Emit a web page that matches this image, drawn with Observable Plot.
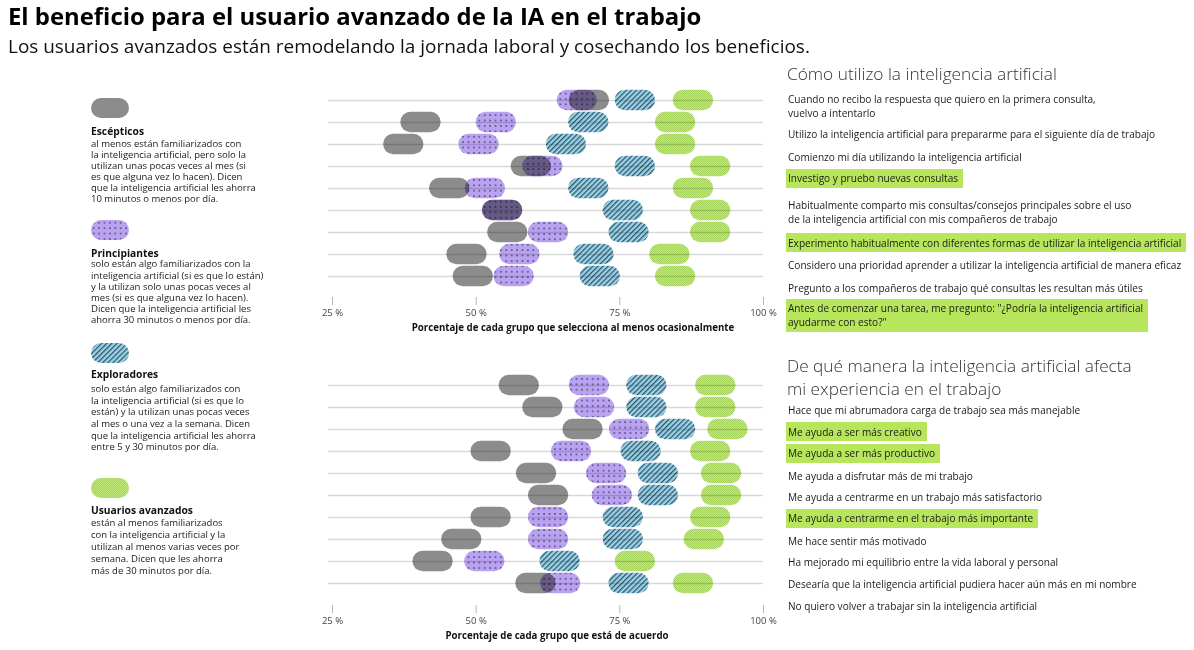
<!DOCTYPE html>
<html>
<head>
<meta charset="utf-8">
<script src="https://cdn.jsdelivr.net/npm/d3@7"></script>
<script src="https://cdn.jsdelivr.net/npm/@observablehq/plot@0.6"></script>
<style>
  html, body { margin: 0; padding: 0; background: #fff; }
  #page { position: relative; width: 1194px; height: 650px; overflow: hidden; font-family: "Open Sans", "Noto Sans", sans-serif; color: #111; }
  .abs { position: absolute; white-space: nowrap; }
  .title { font-weight: 700; font-size: 22px; line-height: 26px; color: #000; }
  .subtitle { font-size: 18px; line-height: 24px; color: #111; }
  .heading { font-weight: 300; font-size: 19px; line-height: 22.6px; color: #333; }
  .item { font-size: 11px; line-height: 14px; color: #1a1a1a; padding: 2.5px 5px 2.5px 2px; display: inline-block; }
  .item.hl { background: #b7e65c; }
  .gname { font-weight: 700; font-size: 11px; line-height: 13px; color: #111; }
  .gdesc { font-size: 10px; color: #1a1a1a; }
  .chart { position: absolute; }
  .chart svg [aria-label="x-axis tick"], .chart svg [aria-label="x-axis"] line { stroke: #b5b5b5; }
</style>
</head>
<body>
<svg width="0" height="0" style="position:absolute">
  <defs>
    <pattern id="pat-dots" patternUnits="userSpaceOnUse" width="5.4" height="5.4">
      <rect width="5.4" height="5.4" fill="#b9a2f2"/>
      <circle cx="2.7" cy="2.7" r="0.75" fill="#1a1a1a"/>
    </pattern>
    <pattern id="pat-hatch" patternUnits="userSpaceOnUse" width="3.6" height="3.6" patternTransform="rotate(45)">
      <rect width="3.6" height="3.6" fill="#96d3ea"/>
      <rect width="1.2" height="3.6" fill="#35505f"/>
    </pattern>
    <pattern id="pat-check" patternUnits="userSpaceOnUse" width="2" height="2">
      <rect width="2" height="2" fill="#bfe77a"/>
      <rect width="1" height="1" fill="#a7d45c"/>
      <rect x="1" y="1" width="1" height="1" fill="#a7d45c"/>
    </pattern>
  </defs>
</svg>
<div id="page"></div>
<script>
// ---------------- DATA ----------------
const titleText = "El beneficio para el usuario avanzado de la IA en el trabajo";
const subtitleText = "Los usuarios avanzados están remodelando la jornada laboral y cosechando los beneficios.";

const groupNames = ["Escépticos", "Principiantes", "Exploradores", "Usuarios avanzados"];
const groupDescriptions = [
  ["al menos están familiarizados con", "la inteligencia artificial, pero solo la", "utilizan unas pocas veces al mes (si", "es que alguna vez lo hacen). Dicen", "que la inteligencia artificial les ahorra", "10 minutos o menos por día."],
  ["solo están algo familiarizados con la", "inteligencia artificial (si es que lo están)", "y la utilizan solo unas pocas veces al", "mes (si es que alguna vez lo hacen).", "Dicen que la inteligencia artificial les", "ahorra 30 minutos o menos por día."],
  ["solo están algo familiarizados con", "la inteligencia artificial (si es que lo", "están) y la utilizan unas pocas veces", "al mes o una vez a la semana. Dicen", "que la inteligencia artificial les ahorra", "entre 5 y 30 minutos por día."],
  ["están al menos familiarizados", "con la inteligencia artificial y la", "utilizan al menos varias veces por", "semana. Dicen que les ahorra", "más de 30 minutos por día."]
];

const usoHeading = "Cómo utilizo la inteligencia artificial";
const usoItems = [
  "Cuando no recibo la respuesta que quiero en la primera consulta,\nvuelvo a intentarlo",
  "Utilizo la inteligencia artificial para prepararme para el siguiente día de trabajo",
  "Comienzo mi día utilizando la inteligencia artificial",
  "Investigo y pruebo nuevas consultas",
  "Habitualmente comparto mis consultas/consejos principales sobre el uso\nde la inteligencia artificial con mis compañeros de trabajo",
  "Experimento habitualmente con diferentes formas de utilizar la inteligencia artificial",
  "Considero una prioridad aprender a utilizar la inteligencia artificial de manera eficaz",
  "Pregunto a los compañeros de trabajo qué consultas les resultan más útiles",
  "Antes de comenzar una tarea, me pregunto: \"¿Podría la inteligencia artificial\nayudarme con esto?\""
];
const usoDestacados = [3, 5, 8];
const usoEscepticos    = [69.7, 40.4, 37.4, 59.6, 45.4, 54.6, 55.5, 48.4, 49.5];
const usoPrincipiantes = [67.6, 53.5, 50.5, 61.6, 51.6, 54.6, 62.6, 57.6, 56.6];
const usoExploradores  = [77.7, 69.6, 65.7, 77.7, 69.6, 75.6, 76.6, 70.5, 71.6];
const usoAvanzados     = [87.8, 84.7, 84.7, 90.8, 87.8, 90.8, 90.8, 83.7, 84.7];
const usoAxisLabel = "Porcentaje de cada grupo que selecciona al menos ocasionalmente";

const expHeading = "De qué manera la inteligencia artificial afecta\nmi experiencia en el trabajo";
const expItems = [
  "Hace que mi abrumadora carga de trabajo sea más manejable",
  "Me ayuda a ser más creativo",
  "Me ayuda a ser más productivo",
  "Me ayuda a disfrutar más de mi trabajo",
  "Me ayuda a centrarme en un trabajo más satisfactorio",
  "Me ayuda a centrarme en el trabajo más importante",
  "Me hace sentir más motivado",
  "Ha mejorado mi equilibrio entre la vida laboral y personal",
  "Desearía que la inteligencia artificial pudiera hacer aún más en mi nombre",
  "No quiero volver a trabajar sin la inteligencia artificial"
];
const expDestacados = [1, 2, 5];
const expEscepticos    = [57.5, 61.6, 68.6, 52.6, 60.5, 62.6, 52.6, 47.5, 42.5, 60.4];
const expPrincipiantes = [69.7, 70.6, 76.7, 66.6, 72.7, 73.7, 62.6, 62.6, 51.5, 64.7];
const expExploradores  = [79.7, 79.7, 84.7, 78.7, 81.7, 81.7, 75.6, 75.6, 64.6, 76.6];
const expAvanzados     = [91.7, 91.7, 93.8, 90.8, 92.7, 92.7, 90.8, 89.7, 77.7, 87.8];
const expAxisLabel = "Porcentaje de cada grupo que está de acuerdo";

const xTicks = [25, 50, 75, 100];

// ---------------- STYLE / LAYOUT ----------------
const groupFills = ["#8c8c8c", "url(#pat-dots)", "url(#pat-hatch)", "url(#pat-check)"];
const FONT = '"Open Sans", "Noto Sans", sans-serif';
const page = document.getElementById("page");

function el(cls, html, left, top) {
  const d = document.createElement("div");
  d.className = "abs " + cls;
  d.innerHTML = html;
  d.style.left = left + "px";
  d.style.top = top + "px";
  page.appendChild(d);
  return d;
}
function fitWidth(node, target) {
  const w = node.getBoundingClientRect().width;
  const fs = parseFloat(getComputedStyle(node).fontSize);
  const nfs = fs * target / w;
  node.style.fontSize = nfs + "px";
  return nfs;
}
function probeFit(cls, text, target) {
  const p = el(cls, text, 0, -200);
  p.style.padding = "0";
  const f = fitWidth(p, target);
  p.remove();
  return f;
}

// Title + subtitle
const t = el("title", titleText, 8, 3);
fitWidth(t, 694);
const st = el("subtitle", subtitleText, 8, 34);
fitWidth(st, 802);

// Legend
const legendLayout = [
  {pill: 98, name: 131.5, desc: 143, lh: 11.0},
  {pill: 220, name: 253.3, desc: 264, lh: 11.07},
  {pill: 342.5, name: 374.3, desc: 389, lh: 11.66},
  {pill: 478.3, name: 510.3, desc: 523.3, lh: 11.8}
];
const nameFont = probeFit("gname", groupNames[3], 102);
const descFont = probeFit("gdesc", "que la inteligencia artificial les ahorra", 165);
groupNames.forEach((g, i) => {
  const L = legendLayout[i];
  const sw = document.createElementNS("http://www.w3.org/2000/svg", "svg");
  sw.setAttribute("width", 38); sw.setAttribute("height", 20);
  sw.style.position = "absolute"; sw.style.left = "91px"; sw.style.top = L.pill + "px";
  sw.innerHTML = `<rect x="0" y="0" width="38" height="20" rx="10" fill="${groupFills[i]}"/>`;
  page.appendChild(sw);
  const n = el("gname", g, 91, L.name - 6.5);
  n.style.fontSize = nameFont + "px";
  const d = el("gdesc", groupDescriptions[i].join("<br>"), 91, L.desc - L.lh / 2);
  d.style.lineHeight = L.lh + "px";
  d.style.fontSize = descFont + "px";
});

// Right-side labels
const h1 = el("heading", usoHeading, 787, 74.3 - 11.3);
fitWidth(h1, 270);
const h2 = el("heading", expHeading.replace("\n", "<br>"), 787, 366.7 - 11.3);
h2.style.fontSize = probeFit("heading", "De qué manera la inteligencia artificial afecta", 345) + "px";

const itemFont = Math.min(
  probeFit("item", usoItems[1], 393),
  probeFit("item", usoItems[5], 394),
  probeFit("item", usoItems[6], 395),
  probeFit("item", expItems[8], 373)
);
const usoY = [99.3, 134, 156.7, 178.3, 205, 242.7, 265, 287.7, 308.3];
const expY = [410, 431.7, 453.3, 476, 497.3, 518.3, 540.7, 561.7, 584.3, 606];
function addItems(items, ys, hl) {
  items.forEach((txt, i) => {
    const d = el("item" + (hl.includes(i) ? " hl" : ""), txt.replace("\n", "<br>"), 786, ys[i] - 7 - 2.5);
    d.style.fontSize = itemFont + "px";
  });
}
addItems(usoItems, usoY, usoDestacados);
addItems(expItems, expY, expDestacados);

// Charts
function pillChart(items, series, opts) {
  const data = [];
  series.forEach((vals, gi) => vals.forEach((v, i) => data.push({item: items[i], group: groupNames[gi], gi, v})));
  const plot = Plot.plot({
    width: 460,
    height: opts.height,
    marginLeft: 12,
    marginRight: 17,
    marginTop: opts.marginTop,
    marginBottom: opts.marginBottom,
    style: {fontFamily: FONT, fontSize: "9.5px", color: "#444", background: "transparent", overflow: "visible"},
    x: {domain: [25, 100], ticks: xTicks, tickFormat: d => d + " %", tickSize: 8, tickPadding: 4, label: null},
    y: {domain: items, axis: null, padding: 0, insetBottom: opts.insetBottom},
    marks: [
      Plot.ruleY(items, {y: d => d, stroke: "#d9d9d9", strokeWidth: 1.3, insetLeft: -4}),
      ...groupNames.map((g, gi) => Plot.barX(data.filter(d => d.gi === gi), {
        x1: d => d.v - 3.5, x2: d => d.v + 3.5, y: "item",
        fill: groupFills[gi], rx: 10, insetTop: 0.7, insetBottom: 0.7,
        mixBlendMode: "multiply"
      })),
      Plot.text([opts.axisLabel], {frameAnchor: "bottom", dy: 33, dx: opts.labelDx, fontWeight: "bold", fontSize: 9.7, fill: "#111"})
    ]
  });
  const wrap = document.createElement("div");
  wrap.className = "chart";
  wrap.style.left = opts.left + "px";
  wrap.style.top = opts.top + "px";
  wrap.appendChild(plot);
  page.appendChild(wrap);
}

pillChart(usoItems, [usoEscepticos, usoPrincipiantes, usoExploradores, usoAvanzados],
  {left: 320, top: 80, height: 260, marginTop: 7, marginBottom: 43, insetBottom: 9, labelDx: 25, axisLabel: usoAxisLabel});
pillChart(expItems, [expEscepticos, expPrincipiantes, expExploradores, expAvanzados],
  {left: 320, top: 360, height: 290, marginTop: 12, marginBottom: 45, insetBottom: 9.5, labelDx: 9, axisLabel: expAxisLabel});
</script>
</body>
</html>
